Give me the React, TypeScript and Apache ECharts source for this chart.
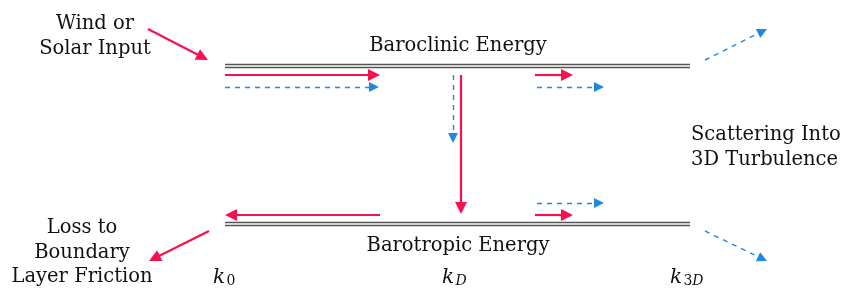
import React, { useEffect, useRef } from 'react';
import * as echarts from 'echarts';

const RED = '#f5124f';
const BLUE = '#1e88e5';
const GRAY = '#555555';
const FONT = 'DejaVu Serif';

// diagram space: x 0..845, y 0..290 (downwards); each arrow is [start, tip]
const bandLines: number[][][] = [
  [[225, 64], [690, 64]],
  [[225, 67.5], [690, 67.5]],
  [[225, 222], [690, 222]],
  [[225, 225.5], [690, 225.5]],
];

const redArrows: number[][][] = [
  [[148, 29], [208, 60]],
  [[225, 75], [380, 75]],
  [[535, 75], [573, 75]],
  [[461, 75], [461, 214]],
  [[380, 215], [225, 215]],
  [[535, 215], [573, 215]],
  [[209, 231], [149, 261]],
];

const blueArrows: number[][][] = [
  [[225, 87], [379, 87]],
  [[537, 87], [604, 87]],
  [[453, 75], [453, 143]],
  [[537, 203], [604, 203]],
  [[705, 60], [767, 29]],
  [[705, 231], [767, 261]],
];

const labels = [
  { text: 'Wind or', x: 95, y: 22, align: 'center' },
  { text: 'Solar Input', x: 95, y: 47, align: 'center' },
  { text: 'Baroclinic Energy', x: 458, y: 44, align: 'center' },
  { text: 'Barotropic Energy', x: 458, y: 244, align: 'center' },
  { text: 'Scattering Into', x: 691, y: 133, align: 'left' },
  { text: '3D Turbulence', x: 691, y: 158, align: 'left' },
  { text: 'Loss to', x: 82, y: 226, align: 'center' },
  { text: 'Boundary', x: 82, y: 251, align: 'center' },
  { text: 'Layer Friction', x: 82, y: 275, align: 'center' },
];

// subscript parts: [text, italic]
const wavenumbers = [
  { sub: [['0', false]], x: 213, y: 276 },
  { sub: [['D', true]], x: 442, y: 276 },
  { sub: [['3', false], ['D', true]], x: 670, y: 276 },
];

// shorten segment so that the symbol's tip lands on the given tip point
function toTip(c: number[][], h: number) {
  const [a, b] = c;
  const dx = b[0] - a[0];
  const dy = b[1] - a[1];
  const len = Math.hypot(dx, dy);
  const f = (len - h / 2) / len;
  return { coords: [a, [a[0] + dx * f, a[1] + dy * f]] };
}

export default function App() {
  const ref = useRef<HTMLDivElement>(null);
  useEffect(() => {
    const chart = echarts.init(ref.current!, null, { renderer: 'svg' });
    const graphic: any[] = [];
    labels.forEach((l) =>
      graphic.push({
        type: 'text',
        x: l.x,
        y: l.y,
        silent: true,
        style: {
          text: l.text,
          fill: '#111',
          font: `19.5px "${FONT}"`,
          align: l.align,
          verticalAlign: 'middle',
        },
      })
    );
    wavenumbers.forEach((w) => {
      const subText = w.sub.map(([t, it]) => `{${it ? 'i' : 'n'}|${t}}`).join('');
      graphic.push({
        type: 'text',
        x: w.x,
        y: w.y,
        silent: true,
        style: {
          text: `{k|k}{gap| }` + subText,
          fill: '#111',
          align: 'left',
          verticalAlign: 'middle',
          rich: {
            k: { font: `italic 20px "${FONT}"`, fill: '#111', verticalAlign: 'middle' },
            gap: { font: `4px "${FONT}"` },
            n: { font: `14px "${FONT}"`, fill: '#111', padding: [8, 0, 0, 0] },
            i: { font: `italic 14px "${FONT}"`, fill: '#111', padding: [8, 0, 0, 0] },
          },
        },
      });
    });

    chart.setOption({
      animation: false,
      grid: { left: 0, right: 0, top: 0, bottom: 0 },
      xAxis: { type: 'value', min: 0, max: 845, show: false },
      yAxis: { type: 'value', min: 0, max: 290, inverse: true, show: false },
      series: [
        {
          type: 'lines',
          coordinateSystem: 'cartesian2d',
          silent: true,
          symbol: ['none', 'none'],
          lineStyle: { color: GRAY, width: 1.4, opacity: 1 },
          data: bandLines.map((c) => ({ coords: c })),
        },
        {
          type: 'lines',
          coordinateSystem: 'cartesian2d',
          silent: true,
          symbol: ['none', 'triangle'],
          symbolSize: [9, 12],
          lineStyle: { color: RED, width: 2.2, opacity: 1 },
          itemStyle: { color: RED },
          data: redArrows.map((c) => toTip(c, 12)),
        },
        {
          type: 'lines',
          coordinateSystem: 'cartesian2d',
          silent: true,
          symbol: ['none', 'triangle'],
          symbolSize: [7, 10],
          lineStyle: { color: BLUE, width: 1.4, type: [5, 5], opacity: 1 },
          itemStyle: { color: BLUE },
          data: blueArrows.map((c) => toTip(c, 10)),
        },
      ],
      graphic,
    });
    return () => chart.dispose();
  }, []);
  return <div ref={ref} style={{ position: 'fixed', left: 0, top: 0, width: 845, height: 290 }} />;
}
